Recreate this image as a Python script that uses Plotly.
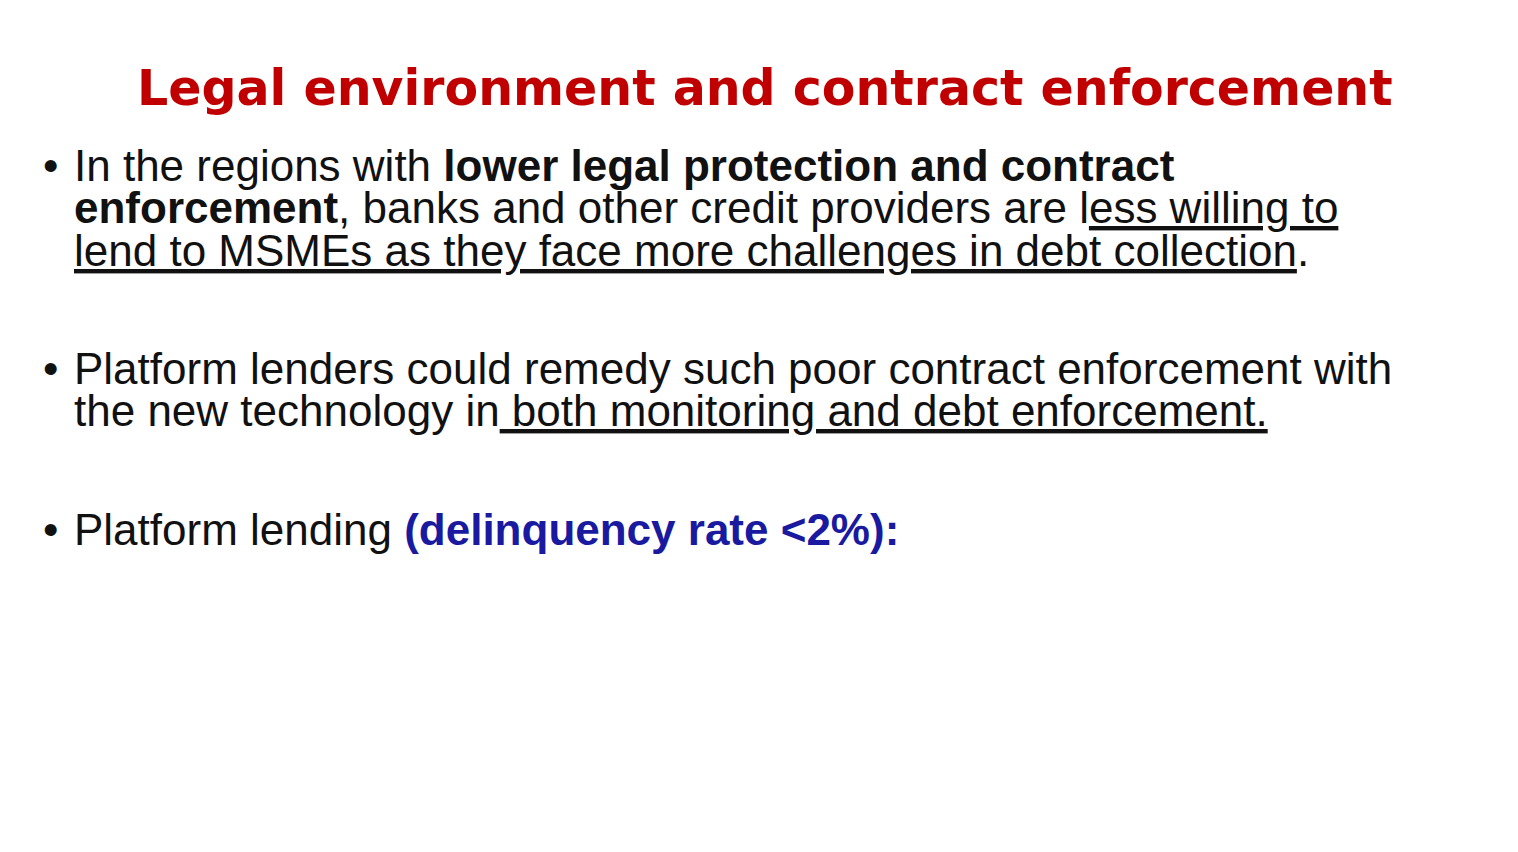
import plotly.graph_objects as go

title = "Legal environment and contract enforcement"
bullet_lines = [
    ["In the regions with <b>lower legal protection and contract</b>",
     "<b>enforcement</b>, banks and other credit providers are l<u>ess willing to</u>",
     "<u>lend to MSMEs as they face more challenges in debt collection</u>."],
    ["Platform lenders could remedy such poor contract enforcement with",
     "the new technology in<u> both monitoring and debt enforcement.</u>"],
    ["Platform lending <span style='color:#1a1aa0'><b>(delinquency rate &lt;2%):</b></span>"],
]
bullet_y = [157, 360, 521]
line_gap = 42.5

fig = go.Figure()
fig.add_annotation(x=757, y=80, text="<b>" + title + "</b>", showarrow=False,
                   xanchor="center", yanchor="middle",
                   font=dict(family="DejaVu Sans", size=49, color="#c00000"))

for lines, y0 in zip(bullet_lines, bullet_y):
    fig.add_annotation(x=42, y=y0, text="•", showarrow=False, xanchor="center", yanchor="middle",
                       font=dict(family="Liberation Sans", size=44, color="#111111"))
    for i, line in enumerate(lines):
        fig.add_annotation(x=64, y=y0 + i * line_gap, text=line, showarrow=False,
                           xanchor="left", yanchor="middle",
                           font=dict(family="Liberation Sans", size=44, color="#111111"))

fig.update_layout(width=1518, height=852, margin=dict(l=0, r=0, t=0, b=0),
                  plot_bgcolor="white", paper_bgcolor="white", showlegend=False)
fig.update_xaxes(range=[0, 1518], visible=False)
fig.update_yaxes(range=[852, 0], visible=False)
fig.write_html("out.html")
